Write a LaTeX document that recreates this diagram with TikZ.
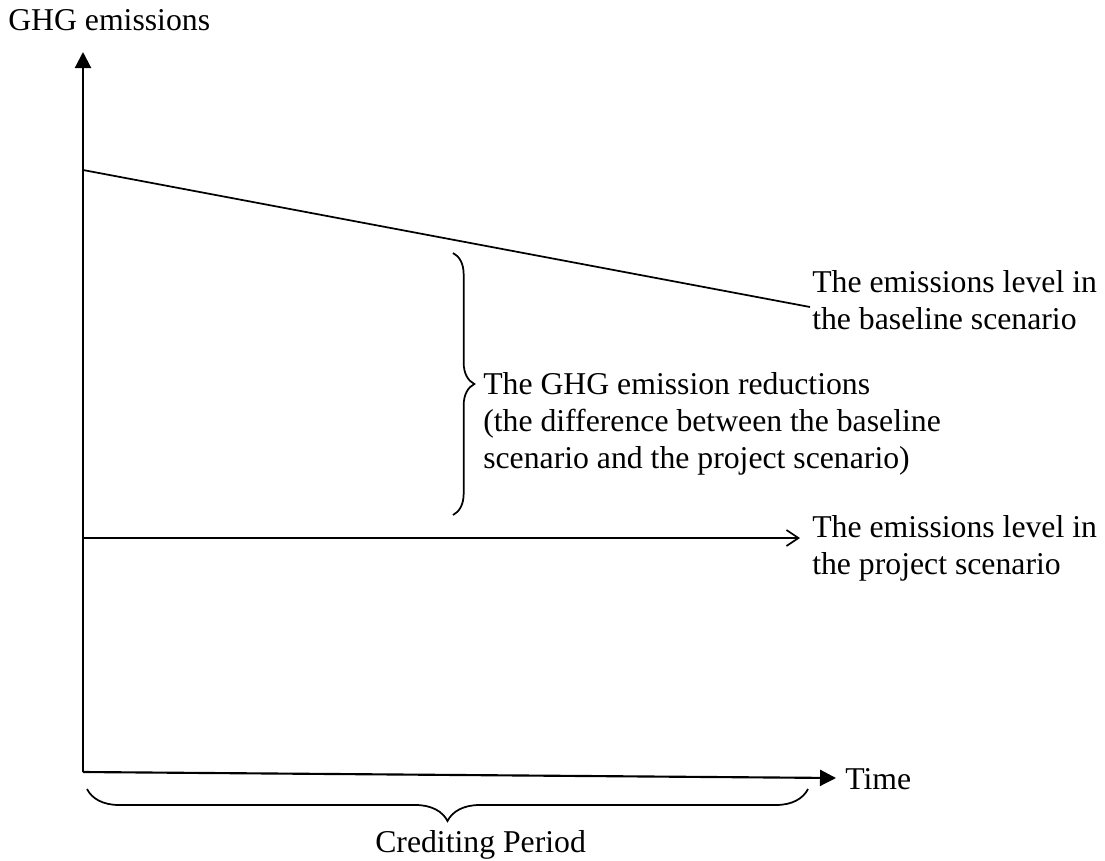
\documentclass[tikz,border=0pt]{standalone}
\usepackage{fontspec}
\setmainfont{Liberation Serif}
\usetikzlibrary{arrows.meta,decorations.pathreplacing}
\begin{document}
\begin{tikzpicture}[x=0.75pt,y=-0.75pt,
  axis/.style={line width=1.6pt},
  curve/.style={line width=1.3pt},
  lbl/.style={inner sep=0pt,anchor=base west,align=left,
    font=\fontsize{23.8}{27.6}\selectfont},
  brace/.style={line width=1.3pt,decorate,
    decoration={brace,amplitude=#1}}]
\useasboundingbox (0,0) rectangle (1105,860);

% axes
\coordinate (O) at (83,772);
\coordinate (ytop) at (83,52);
\coordinate (xend) at (836,778);
\draw[axis,-{Triangle[length=12pt,width=12pt]}] (O) -- (ytop);
\draw[axis,-{Triangle[length=12pt,width=12pt]}] (O) -- (xend);

% emission levels
\coordinate (b0) at (83,170);
\coordinate (b1) at (810,307);
\draw[curve] (b0) -- (b1);
\coordinate (p0) at (83,538);
\coordinate (p1) at (800,538);
\draw[curve,-{Straight Barb[length=9pt,width=12pt]}] (p0) -- (p1);

% braces
\coordinate (r0) at (453,253);
\coordinate (r1) at (453,515);
\draw[brace=16pt] (r0) -- (r1);
\coordinate (c0) at (87,789);
\coordinate (c1) at (808,789);
\draw[brace=24pt,decoration={mirror}] (c0) -- (c1);

% labels (the base anchor of a multi-line label is its last line)
\node[lbl] (ylab) at (8,30) {GHG emissions};
\node[lbl] (blab) at (812,329) {The emissions level in\\the baseline scenario};
\node[lbl] (rlab) at (483,468) {The GHG emission reductions\\(the difference between the baseline\\scenario and the project scenario)};
\node[lbl] (plab) at (812,574) {The emissions level in\\the project scenario};
\node[lbl] (xlab) at (845,789) {Time};
\node[lbl] (clab) at (375,852) {Crediting Period};
\end{tikzpicture}
\end{document}
